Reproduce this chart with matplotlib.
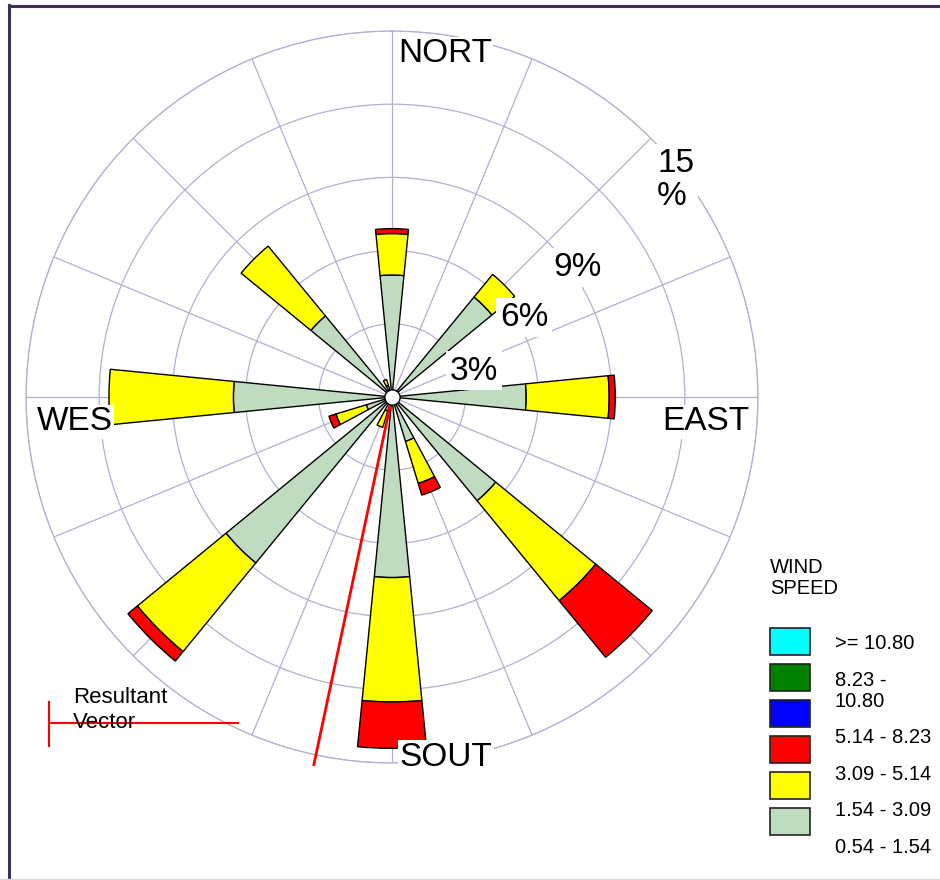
import numpy as np
import matplotlib
matplotlib.use("Agg")
import matplotlib.pyplot as plt
from matplotlib.lines import Line2D
from matplotlib.patches import Rectangle

plt.rcParams["font.family"] = ["Liberation Sans", "DejaVu Sans"]

# --- data -------------------------------------------------------------
directions = ["N", "NNE", "NE", "ENE", "E", "ESE", "SE", "SSE",
              "S", "SSW", "SW", "WSW", "W", "WNW", "NW", "NNW"]
dir_deg = np.arange(16) * 22.5

# frequency (%) by speed class (m/s) for each direction
spd_154_309 = [5.0, 0, 5.3, 0, 5.5, 0, 5.5, 1.9, 7.4, 0.6, 8.8, 1.1, 6.5, 0, 4.3, 0.5]
spd_309_514 = [1.7, 0, 1.2, 0, 3.4, 0, 5.3, 1.8, 5.1, 0.7, 4.7, 1.3, 5.1, 0, 3.7, 0.25]
spd_514_823 = [0.2, 0, 0, 0, 0.25, 0, 3.0, 0.5, 1.9, 0, 0.5, 0.3, 0, 0, 0, 0]

rings = [3, 6, 9, 12, 15]
ring_text = ["3%", "6%", "9%", "15\n%"]

resultant_dir = 192.0   # degrees from north
resultant_len = 15.4    # %

legend_labels = [">= 10.80", "8.23 -\n10.80", "5.14 - 8.23",
                 "3.09 - 5.14", "1.54 - 3.09", "0.54 - 1.54"]
legend_colors = ["#00ffff", "#008000", "#0000ff", "#ff0000", "#ffff00", "#c0dcc0"]

W, H = 940, 880
GRID = "#b0b0d2"


def fx(x):
    return x / W


def fy(y):
    return 1 - y / H


fig = plt.figure(figsize=(W / 100, H / 100), dpi=100)

# polar rose
cx, cy, R = 392, 397, 366
ax = fig.add_axes([fx(cx - R), fy(cy + R), 2 * R / W, 2 * R / H], projection="polar")
ax.set_theta_zero_location("N")
ax.set_theta_direction(-1)
ax.set_ylim(0, 15)
ax.set_yticks(rings)
ax.set_yticklabels([])
ax.set_xticks(np.radians(dir_deg))
ax.set_xticklabels([])
ax.grid(True, color=GRID, lw=0.9)
ax.spines["polar"].set_color(GRID)
ax.spines["polar"].set_linewidth(0.9)

theta = np.radians(dir_deg)
width = np.radians(11.25)
bottom = np.zeros(16)
for vals, col in [(spd_154_309, "#c0dcc0"), (spd_309_514, "#ffff00"), (spd_514_823, "#ff0000")]:
    v = np.array(vals, dtype=float)
    m = v > 0
    ax.bar(theta[m], v[m], width=width, bottom=bottom[m], color=col,
           edgecolor="black", linewidth=1, zorder=3)
    bottom += v

th = np.radians(resultant_dir)
ax.plot([th, th], [0, resultant_len], color="red", lw=2, zorder=4, clip_on=False)
ax.plot(0, 0, "o", ms=11, mfc="white", mec="black", mew=1, zorder=5)

# direction and ring labels
box = dict(fc="white", ec="none", pad=1)
for txt, (x, y) in zip(["NORT", "EAST", "WES", "SOUT"],
                       [(445, 54), (706, 422), (75, 422), (446, 757)]):
    fig.text(fx(x), fy(y), txt, fontsize=24, ha="center", va="center", bbox=box)
for txt, (x, y) in zip(ring_text, [(450, 371), (500, 318), (553, 267), (657, 180)]):
    fig.text(fx(x), fy(y), txt, fontsize=24, ha="left", va="center",
             bbox=dict(fc="white", ec="none", pad=3), linespacing=1.05)

# speed legend
fig.text(fx(770), fy(578), "WIND\nSPEED", fontsize=14.5, ha="left", va="center",
         linespacing=1.1)
text_y = [643, 691, 737, 774, 810, 847]
for i, (lab, col) in enumerate(zip(legend_labels, legend_colors)):
    top = 628 + 36 * i
    fig.add_artist(Rectangle((fx(770), fy(top + 27)), 40 / W, 27 / H,
                             transform=fig.transFigure, fc=col, ec="#222222", lw=1.2))
    fig.text(fx(835), fy(text_y[i]), lab, fontsize=14.5, ha="left", va="center",
             linespacing=1.1)

# resultant vector key
fig.add_artist(Line2D([fx(49), fx(238)], [fy(723), fy(723)], color="red", lw=1.5))
fig.add_artist(Line2D([fx(49), fx(49)], [fy(702), fy(746)], color="red", lw=1.5))
fig.text(fx(73), fy(710), "Resultant\nVector", fontsize=16, ha="left", va="center")

# frame
fig.add_artist(Line2D([fx(9), 1], [fy(6.5), fy(6.5)], color="#3d3152", lw=2.2))
fig.add_artist(Line2D([fx(9), fx(9)], [fy(5.5), 0], color="#3d3152", lw=2.2))
fig.add_artist(Line2D([0, 1], [fy(879), fy(879)], color="#d8d8d8", lw=1))

fig.savefig("out.png", dpi=100)
